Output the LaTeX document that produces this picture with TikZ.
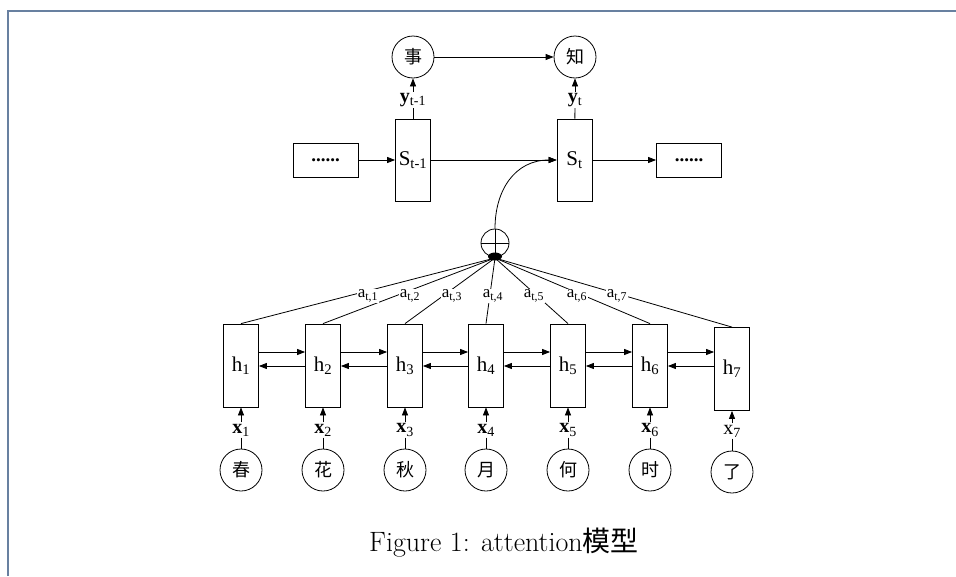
\documentclass[tikz,border=0pt]{standalone}
\usepackage{fontspec}
\usetikzlibrary{arrows.meta}
\newfontfamily\tms{Liberation Serif}
\newfontfamily\cjk{Noto Sans CJK SC}
\definecolor{framecol}{RGB}{104,128,160}
\begin{document}
\begin{tikzpicture}[x=1pt,y=-1pt,line width=0.8pt,
  arr/.style={-{Triangle[length=8pt,width=6pt]}},
  cell/.style={draw,minimum width=35pt,minimum height=83pt,inner sep=0pt,
    font=\tms\fontsize{21}{23}\selectfont},
  tok/.style={draw,circle,minimum size=42pt,inner sep=0pt,
    font=\cjk\fontsize{18}{20}\selectfont},
  lab/.style={inner sep=1pt,font=\tms\fontsize{20}{21}\selectfont},
  wgt/.style={fill=white,inner sep=1pt,font=\tms\fontsize{17}{18}\selectfont},
  dotbox/.style={draw,minimum width=65pt,minimum height=34pt,inner sep=0pt,
    font=\tms\bfseries\fontsize{19}{20}\selectfont}]
\fill[white] (0,0) rectangle (956,576);
\useasboundingbox (0,0) rectangle (956,576);
% page frame
\draw[framecol,line width=2pt] (8,576) -- (8,11) -- (956,11);

% decoder row
\node[tok] (o1) at (413,57) {事};
\node[tok] (o2) at (575,57) {知};
\node[lab] (y1) at (413,100) {\textbf{y}\textsubscript{t-1}};
\node[lab] (y2) at (575,100) {\textbf{y}\textsubscript{t}};
\node[cell,minimum height=82pt] (S1) at (413,160) {S\textsubscript{t-1}};
\node[cell,minimum height=82pt] (S2) at (574.5,160) {S\textsubscript{t}};
\node[dotbox] (d1) at (325.5,160) {......};
\node[dotbox] (d2) at (689,160) {......};
\draw[arr] (o1) -- (o2);
\draw[arr] (y1) -- (o1);
\draw[arr] (y2) -- (o2);
\draw (y1) -- (S1);
\draw (y2) -- (S2);
\draw[arr] (d1) -- (S1);
\draw[arr] (S1) -- (S2);
\draw[arr] (S2) -- (d2);

% weighted sum
\node[draw,circle,minimum size=28pt,inner sep=0pt] (plus) at (495,243) {};
\draw (plus.west) -- (plus.east) (plus.north) -- (plus.south);
\coordinate (hub) at (495,258);
\fill (495,256.5) ellipse [x radius=7pt,y radius=4pt];
\draw[arr] (plus.north) .. controls (495,190) and (515,160) .. (S2.west);

% encoder row
\coordinate (ra) at (0,352);
\coordinate (la) at (0,366);
\foreach \i/\x/\c in {1/241/春,2/323/花,3/405/秋,4/486/月,5/568/何,6/650/时}{
  \node[cell] (h\i) at (\x,365.5) {h\textsubscript{\i}};
  \node[lab] (x\i) at (\x,430) {\textbf{x}\textsubscript{\i}};
  \node[tok] (c\i) at (\x,470) {\c};
  \draw[arr] (x\i) -- (h\i);
  \draw (x\i) -- (c\i);
}
\node[cell] (h7) at (732,369) {h\textsubscript{7}};
\node[lab] (x7) at (732,431) {x\textsubscript{7}};
\node[tok] (c7) at (732,472) {了};
\draw[arr] (x7) -- (h7);
\draw (x7) -- (c7);
\foreach \i/\j in {1/2,2/3,3/4,4/5,5/6,6/7}{
  \draw[arr] (h\i.east |- ra) -- (h\j.west |- ra);
  \draw[arr] (h\j.west |- la) -- (h\i.east |- la);
}

% attention weights
\foreach \i in {1,...,7}{
  \draw (h\i.north) -- (hub);
}
\foreach \i/\x in {1/368,2/410,3/452,4/493,5/534,6/577,7/617}{
  \node[wgt] (a\i) at (\x,296) {a\textsubscript{t,\i}};
}

% caption
\node[font=\fontsize{28}{32}\selectfont] (cap) at (504,543) {Figure 1: attention{\cjk 模型}};
\end{tikzpicture}
\end{document}
